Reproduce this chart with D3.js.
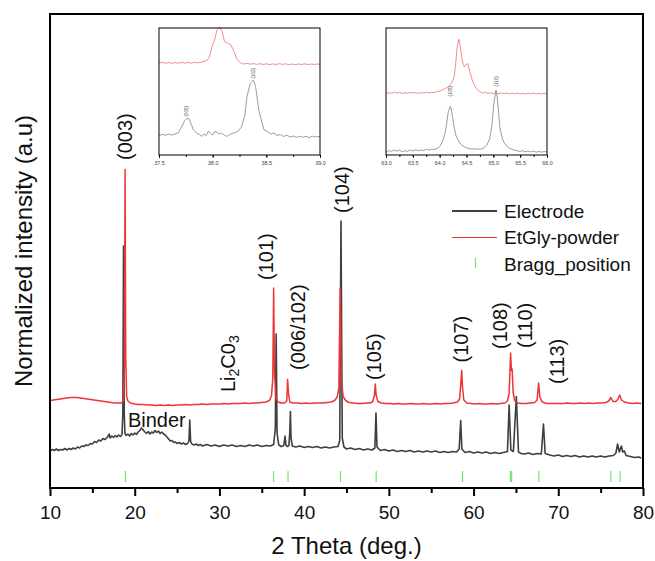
<!DOCTYPE html>
<html>
<head>
<meta charset="utf-8">
<script src="https://cdn.jsdelivr.net/npm/d3@7"></script>
<style>
  body { margin: 0; background: #fff; }
  svg { display: block; font-family: "Liberation Sans", Arial, sans-serif; }
</style>
</head>
<body>
<div id="chart"></div>
<script>
// [2theta (deg), intensity (a.u., offset already applied)]
const electrode = [
  [10.0,7.4],[10.25,7.7],[10.5,7.5],[10.75,7.8],[11.0,7.5],[11.25,7.7],[11.5,7.6],[11.75,7.9],[12.0,7.6],[12.25,7.9],
  [12.5,7.7],[12.75,8.0],[13.0,7.8],[13.25,8.2],[13.5,8.0],[13.75,8.4],[14.0,8.3],[14.25,8.6],[14.5,8.5],[14.75,8.9],
  [15.0,8.8],[15.25,9.3],[15.5,9.1],[15.75,9.6],[16.0,9.4],[16.25,9.9],[16.5,9.7],[16.75,10.1],[17.0,10.8],[17.1,10.0],
  [17.3,10.4],[17.5,10.1],[17.7,10.5],[17.9,10.2],[18.1,10.6],[18.3,10.3],[18.5,10.7],[18.6,15.0],[18.68,48.4],[18.76,15.0],
  [18.85,10.9],[19.0,10.5],[19.2,10.8],[19.4,10.4],[19.6,10.9],[19.8,10.6],[20.0,11.0],[20.2,10.7],[20.4,11.2],[20.6,11.5],
  [20.8,12.0],[21.0,11.6],[21.2,11.2],[21.4,10.9],[21.6,11.3],[21.8,10.8],[22.0,11.2],[22.2,11.0],[22.4,11.5],[22.6,11.1],
  [22.8,11.4],[23.0,10.9],[23.2,11.2],[23.4,10.8],[23.6,10.6],[23.8,10.2],[24.0,9.8],[24.2,9.4],[24.4,9.5],[24.6,9.1],
  [24.8,9.2],[25.0,8.9],[25.25,9.1],[25.5,8.8],[25.75,9.0],[26.0,8.7],[26.25,8.9],[26.4,9.4],[26.5,13.6],[26.6,9.3],
  [26.75,8.8],[27.0,8.6],[27.25,8.8],[27.5,8.5],[27.75,8.7],[28.0,8.4],[28.5,8.7],[29.0,8.4],[29.5,8.6],[30.0,8.3],
  [30.5,8.6],[31.0,8.4],[31.5,8.6],[32.0,8.3],[32.5,8.5],[33.0,8.3],[33.5,8.6],[34.0,8.4],[34.5,8.6],[35.0,8.3],
  [35.5,8.5],[36.0,8.4],[36.4,8.7],[36.6,12.0],[36.7,30.8],[36.8,11.0],[37.0,8.6],[37.3,8.3],[37.6,8.5],[37.75,10.4],
  [37.85,8.6],[38.0,8.3],[38.2,8.5],[38.3,11.0],[38.38,15.3],[38.45,10.0],[38.6,8.4],[39.0,8.2],[39.5,8.4],[40.0,8.1],
  [40.5,8.3],[41.0,8.1],[41.5,8.3],[42.0,8.0],[42.5,8.2],[43.0,8.0],[43.5,8.2],[44.0,8.3],[44.2,9.5],[44.35,53.4],
  [44.5,10.0],[44.7,8.2],[45.0,7.8],[45.5,8.0],[46.0,7.7],[46.5,7.9],[47.0,7.6],[47.5,7.8],[48.0,7.6],[48.35,8.0],
  [48.48,15.0],[48.6,8.2],[49.0,7.5],[49.5,7.7],[50.0,7.4],[50.5,7.6],[51.0,7.3],[51.5,7.5],[52.0,7.3],[52.5,7.5],
  [53.0,7.2],[53.5,7.4],[54.0,7.2],[54.5,7.4],[55.0,7.2],[55.5,7.4],[56.0,7.1],[56.5,7.3],[57.0,7.1],[57.5,7.3],
  [58.0,7.2],[58.3,7.8],[58.48,13.5],[58.62,7.8],[59.0,7.1],[59.5,7.3],[60.0,7.0],[60.5,7.2],[61.0,7.0],[61.5,7.2],
  [62.0,6.9],[62.5,7.1],[63.0,6.9],[63.5,7.1],[64.0,7.3],[64.2,16.6],[64.4,7.6],[64.7,7.3],[65.05,18.3],[65.3,7.2],
  [65.6,6.9],[66.0,6.8],[66.5,7.0],[67.0,6.7],[67.5,6.9],[68.0,6.8],[68.25,12.8],[68.45,6.9],[69.0,6.6],[69.5,6.4],
  [70.0,6.6],[70.5,6.3],[71.0,6.5],[71.5,6.3],[72.0,6.5],[72.5,6.2],[73.0,6.4],[73.5,6.2],[74.0,6.4],[74.5,6.2],
  [75.0,6.4],[75.5,6.2],[76.0,6.4],[76.5,6.5],[76.8,7.0],[77.0,8.8],[77.2,7.2],[77.45,8.4],[77.6,7.2],[77.8,7.4],
  [78.0,6.5],[78.5,6.3],[79.0,6.1],[79.5,6.2],[79.8,6.0]
]

const etGlyPowder = [
  [10.0,17.5],[10.4,17.6],[10.8,17.7],[11.2,17.8],[11.6,17.9],[12.0,18.0],[12.4,18.1],[12.8,18.1],[13.2,18.1],[13.6,18.0],
  [14.0,17.9],[14.4,17.8],[14.8,17.7],[15.2,17.6],[15.6,17.5],[16.0,17.4],[16.4,17.3],[16.8,17.2],[17.2,17.1],[17.6,17.0],
  [18.0,17.0],[18.4,17.0],[18.65,17.4],[18.78,24.0],[18.86,63.7],[18.94,26.0],[19.05,18.2],[19.2,17.4],[19.5,17.0],[20.0,16.8],
  [20.5,16.7],[21.0,16.7],[21.5,16.6],[22.0,16.6],[22.5,16.5],[23.0,16.6],[23.5,16.5],[24.0,16.6],[24.5,16.5],[25.0,16.6],
  [25.5,16.6],[26.0,16.7],[26.5,16.6],[27.0,16.7],[27.5,16.7],[28.0,16.8],[28.5,16.7],[29.0,16.8],[29.5,16.8],[30.0,16.8],
  [30.5,16.9],[31.0,16.8],[31.5,16.9],[32.0,16.9],[32.5,16.9],[33.0,17.0],[33.5,16.9],[34.0,17.0],[34.5,17.0],[35.0,17.1],
  [35.5,17.2],[35.9,17.5],[36.15,18.5],[36.3,22.0],[36.4,40.0],[36.5,23.0],[36.65,18.2],[36.9,17.2],[37.3,17.0],[37.7,17.0],
  [37.95,17.4],[38.05,21.7],[38.15,19.0],[38.3,17.2],[38.7,17.0],[39.2,17.0],[39.7,16.9],[40.2,17.0],[40.7,16.9],[41.2,17.0],
  [41.7,17.0],[42.2,17.0],[42.7,17.1],[43.2,17.2],[43.6,17.5],[43.9,18.2],[44.1,20.0],[44.25,39.9],[44.4,22.0],[44.6,18.3],
  [44.9,17.5],[45.3,17.1],[45.8,17.0],[46.3,16.9],[46.8,16.9],[47.3,17.0],[47.8,17.0],[48.1,17.3],[48.3,18.5],[48.4,20.8],
  [48.5,18.6],[48.7,17.3],[49.1,17.0],[49.6,16.9],[50.1,16.9],[50.6,16.8],[51.1,16.9],[51.6,16.8],[52.1,16.8],[52.6,16.9],
  [53.1,16.8],[53.6,16.8],[54.1,16.9],[54.6,16.8],[55.1,16.8],[55.6,16.9],[56.1,16.8],[56.6,16.9],[57.1,16.9],[57.6,17.0],
  [58.1,17.2],[58.35,17.8],[58.5,21.0],[58.6,23.5],[58.7,20.0],[58.85,17.6],[59.2,17.0],[59.7,16.9],[60.2,16.8],[60.7,16.9],
  [61.2,16.8],[61.7,16.8],[62.2,16.9],[62.7,16.8],[63.2,16.9],[63.7,17.0],[64.0,17.4],[64.2,19.0],[64.37,27.0],[64.47,23.5],
  [64.55,23.8],[64.68,19.0],[64.85,17.5],[65.2,17.0],[65.7,16.9],[66.2,16.9],[66.7,17.0],[67.2,17.1],[67.5,17.6],[67.68,21.0],
  [67.82,18.2],[68.1,17.2],[68.6,16.9],[69.1,16.9],[69.6,16.9],[70.1,16.9],[70.6,16.9],[71.1,17.0],[71.6,16.9],[72.1,16.9],
  [72.6,17.0],[73.1,16.9],[73.6,17.0],[74.1,16.9],[74.6,17.0],[75.1,17.0],[75.6,17.1],[75.95,17.4],[76.2,18.1],[76.45,17.3],
  [76.8,17.3],[77.05,17.8],[77.25,18.6],[77.45,17.6],[77.8,17.2],[78.3,17.0],[78.8,16.9],[79.3,17.0],[79.8,16.9]
]

const braggPositions = [18.9, 36.4, 38.1, 44.3, 48.5, 58.7, 64.35, 64.5, 67.7, 76.2, 77.3]

// [label, 2theta, intensity at the foot of the label]
const peakLabels = [
  ["(003)", 18.8, 65.6],
  ["(101)", 35.5, 41.6],
  ["(006/102)", 39.3, 23.6],
  ["(104)", 44.5, 55.0],
  ["(105)", 48.3, 21.6],
  ["(107)", 58.55, 25.1],
  ["(108)", 63.1, 27.8],
  ["(110)", 66.1, 28.0],
  ["(113)", 69.9, 20.8]
]
const li2co3Label = [31.0, 19.2]
const binderLabel = [19.2, 12.3]

const xMajorTicks = [10, 20, 30, 40, 50, 60, 70, 80]
const xMinorTicks = [15, 25, 35, 45, 55, 65, 75]

// zoomed insets
const inset1Powder = [
  [37.50,92.0],[37.53,92.6],[37.56,91.8],[37.59,92.5],[37.62,91.7],[37.65,92.4],[37.68,91.9],[37.71,92.6],[37.74,92.0],[37.77,92.5],
  [37.80,91.8],[37.83,92.6],[37.86,92.1],[37.89,92.8],[37.92,93.5],[37.95,95.0],[37.97,98.0],[37.99,106.7],[38.02,116.0],[38.04,125.0],
  [38.065,127.7],[38.09,123.3],[38.11,113.3],[38.14,111.7],[38.17,110.0],[38.20,103.3],[38.23,95.0],[38.26,92.2],[38.29,91.0],[38.32,91.6],
  [38.35,90.8],[38.38,91.5],[38.41,90.6],[38.44,91.3],[38.47,90.5],[38.50,91.2],[38.53,90.4],[38.56,91.1],[38.59,90.5],[38.62,91.3],
  [38.65,90.6],[38.68,91.2],[38.71,90.4],[38.74,91.0],[38.77,90.3],[38.80,91.1],[38.83,90.5],[38.86,91.2],[38.89,90.4],[38.92,91.0],
  [38.95,90.5],[38.98,91.1],[39.00,90.6]
]
const inset1Electrode = [
  [37.50,19.5],[37.53,20.5],[37.56,19.8],[37.59,20.8],[37.62,20.0],[37.65,21.2],[37.68,22.0],[37.70,26.0],[37.72,30.0],[37.74,34.5],
  [37.76,36.7],[37.78,36.0],[37.80,31.0],[37.82,25.0],[37.85,21.7],[37.88,20.5],[37.90,18.5],[37.92,21.0],[37.94,19.5],[37.96,24.0],
  [37.98,21.5],[38.00,20.0],[38.02,23.5],[38.04,22.5],[38.06,21.0],[38.08,22.0],[38.10,20.5],[38.13,18.5],[38.15,20.0],[38.18,21.5],
  [38.21,22.5],[38.24,24.0],[38.27,28.3],[38.30,40.0],[38.32,58.3],[38.35,71.7],[38.38,75.0],[38.40,68.3],[38.43,45.0],[38.46,32.0],
  [38.48,25.0],[38.51,23.5],[38.54,21.0],[38.57,22.0],[38.60,19.5],[38.63,20.5],[38.66,18.5],[38.69,20.0],[38.72,18.0],[38.75,19.0],
  [38.78,17.5],[38.81,18.8],[38.84,17.8],[38.87,18.5],[38.90,17.5],[38.93,18.8],[38.96,18.0],[39.00,18.6]
]
const inset1Labels = [["(006)", 37.76, 38.5], ["(102)", 38.38, 76.5]]
const inset1Ticks = [37.5, 38.0, 38.5, 39.0]

const inset2Powder = [
  [63.00,61.0],[63.05,62.5],[63.10,61.5],[63.15,63.0],[63.20,61.8],[63.25,62.6],[63.30,61.5],[63.35,62.4],[63.40,61.7],[63.45,62.6],
  [63.50,61.8],[63.55,62.4],[63.60,61.6],[63.65,62.5],[63.70,61.9],[63.75,62.8],[63.80,62.0],[63.85,62.9],[63.90,62.4],[63.95,63.5],
  [64.00,64.0],[64.04,65.0],[64.08,65.8],[64.12,67.0],[64.16,68.3],[64.20,70.5],[64.24,74.0],[64.27,78.3],[64.30,92.0],[64.32,105.0],
  [64.34,112.0],[64.36,115.7],[64.38,110.0],[64.41,98.3],[64.44,90.5],[64.46,88.3],[64.49,90.0],[64.52,91.7],[64.55,86.0],[64.57,81.7],
  [64.60,76.0],[64.62,73.3],[64.65,69.5],[64.68,66.7],[64.72,64.5],[64.76,63.3],[64.80,62.0],[64.85,62.8],[64.90,61.5],[64.95,62.3],
  [65.00,61.4],[65.05,62.0],[65.10,61.2],[65.15,62.1],[65.20,61.3],[65.25,61.9],[65.30,61.0],[65.35,61.8],[65.40,61.2],[65.45,61.9],
  [65.50,61.1],[65.55,61.7],[65.60,61.0],[65.65,61.8],[65.70,61.2],[65.75,61.9],[65.80,61.1],[65.85,61.6],[65.90,61.0],[65.95,61.7],
  [66.00,61.3]
]
const inset2Electrode = [
  [63.00,3.0],[63.05,4.5],[63.10,3.5],[63.15,5.0],[63.20,3.8],[63.25,4.8],[63.30,3.5],[63.35,4.2],[63.40,3.6],[63.45,4.9],
  [63.50,4.0],[63.55,5.2],[63.60,4.2],[63.65,5.0],[63.70,4.5],[63.75,5.6],[63.80,4.8],[63.85,5.8],[63.90,5.5],[63.95,6.5],
  [64.00,8.3],[64.05,13.0],[64.10,21.7],[64.13,31.0],[64.16,43.3],[64.20,49.0],[64.22,45.0],[64.24,38.3],[64.27,28.0],[64.30,20.0],
  [64.35,14.0],[64.41,10.0],[64.47,8.0],[64.53,6.7],[64.60,6.0],[64.68,6.2],[64.76,5.7],[64.82,7.0],[64.88,10.0],[64.93,16.0],
  [64.97,28.3],[65.01,51.7],[65.05,65.0],[65.07,58.3],[65.10,42.0],[65.12,28.3],[65.16,18.0],[65.20,12.3],[65.25,9.0],[65.31,6.7],
  [65.38,5.0],[65.45,4.2],[65.50,3.5],[65.55,4.3],[65.60,3.2],[65.65,4.0],[65.70,3.0],[65.75,3.8],[65.80,2.9],[65.85,3.6],
  [65.90,2.8],[65.95,3.5],[66.00,3.0]
]
const inset2Labels = [["(108)", 64.2, 58.5], ["(110)", 65.05, 68.5]]
const inset2Ticks = [63.0, 63.5, 64.0, 64.5, 65.0, 65.5, 66.0]

const colors = { electrode: "#3f3f3f", powder: "#ee3434", bragg: "#66e466" }

const dimensions = {
  width: 655,
  height: 561,
  margin: { top: 14, right: 12, bottom: 73, left: 50 }
}
dimensions.boundedWidth = dimensions.width - dimensions.margin.left - dimensions.margin.right
dimensions.boundedHeight = dimensions.height - dimensions.margin.top - dimensions.margin.bottom

const svg = d3.select("#chart").append("svg")
    .attr("width", dimensions.width)
    .attr("height", dimensions.height)

const bounds = svg.append("g")
    .attr("transform", `translate(${dimensions.margin.left},${dimensions.margin.top})`)

const xScale = d3.scaleLinear()
  .domain([10, 80])
  .range([0, dimensions.boundedWidth])

const yScale = d3.scaleLinear()
  .domain([0, 94.8])
  .range([dimensions.boundedHeight, 0])

bounds.append("clipPath").attr("id", "plot-clip")
  .append("rect")
    .attr("width", dimensions.boundedWidth)
    .attr("height", dimensions.boundedHeight)

const lineGenerator = d3.line()
  .x(d => xScale(d[0]))
  .y(d => yScale(d[1]))

const plot = bounds.append("g").attr("clip-path", "url(#plot-clip)")

plot.append("path")
    .datum(electrode)
    .attr("fill", "none")
    .attr("stroke", colors.electrode)
    .attr("stroke-width", 1.6)
    .attr("stroke-linejoin", "round")
    .attr("d", lineGenerator)

plot.append("path")
    .datum(etGlyPowder)
    .attr("fill", "none")
    .attr("stroke", colors.powder)
    .attr("stroke-width", 1.5)
    .attr("stroke-linejoin", "round")
    .attr("d", lineGenerator)

// bragg markers sit just above the x axis
plot.selectAll(".bragg")
  .data(braggPositions)
  .join("line")
    .attr("class", "bragg")
    .attr("x1", d => xScale(d))
    .attr("x2", d => xScale(d))
    .attr("y1", dimensions.boundedHeight - 17)
    .attr("y2", dimensions.boundedHeight - 6)
    .attr("stroke", colors.bragg)
    .attr("stroke-width", 1.1)

// peak labels
bounds.selectAll(".peak-label")
  .data(peakLabels)
  .join("text")
    .attr("class", "peak-label")
    .attr("transform", d => `translate(${xScale(d[1])},${yScale(d[2])}) rotate(-90)`)
    .attr("dominant-baseline", "central")
    .attr("font-size", 20)
    .attr("fill", "#111")
    .text(d => d[0])

const li = bounds.append("text")
    .attr("transform", `translate(${xScale(li2co3Label[0])},${yScale(li2co3Label[1])}) rotate(-90)`)
    .attr("dominant-baseline", "central")
    .attr("font-size", 20)
    .attr("fill", "#111")
li.append("tspan").text("Li")
li.append("tspan").attr("font-size", 14).attr("dy", 6).text("2")
li.append("tspan").attr("dy", -6).text("C0")
li.append("tspan").attr("font-size", 14).attr("dy", 6).text("3")

bounds.append("text")
    .attr("x", xScale(binderLabel[0]))
    .attr("y", yScale(binderLabel[1]))
    .attr("font-size", 20)
    .attr("fill", "#111")
    .text("Binder")

// axes
const xAxis = bounds.append("g")
    .attr("transform", `translate(0,${dimensions.boundedHeight})`)
    .call(d3.axisBottom(xScale).tickValues(xMajorTicks).tickSize(8).tickPadding(10))
xAxis.select(".domain").remove()
xAxis.selectAll(".tick line").attr("stroke-width", 2)
xAxis.selectAll(".tick text")
    .attr("font-size", 19)
    .attr("font-family", "Liberation Sans, Arial, sans-serif")
    .attr("fill", "#111")

const xMinor = bounds.append("g")
    .attr("transform", `translate(0,${dimensions.boundedHeight})`)
    .call(d3.axisBottom(xScale).tickValues(xMinorTicks).tickSize(5).tickFormat(""))
xMinor.select(".domain").remove()
xMinor.selectAll(".tick line").attr("stroke-width", 2)

bounds.append("rect")
    .attr("width", dimensions.boundedWidth)
    .attr("height", dimensions.boundedHeight)
    .attr("fill", "none")
    .attr("stroke", "#000")
    .attr("stroke-width", 2)

svg.append("text")
    .attr("x", dimensions.margin.left + dimensions.boundedWidth / 2)
    .attr("y", 554)
    .attr("text-anchor", "middle")
    .attr("font-size", 24)
    .attr("fill", "#111")
    .text("2 Theta (deg.)")

svg.append("text")
    .attr("transform", `translate(23,${dimensions.margin.top + dimensions.boundedHeight / 2}) rotate(-90)`)
    .attr("text-anchor", "middle")
    .attr("dominant-baseline", "central")
    .attr("font-size", 24)
    .attr("fill", "#111")
    .text("Normalized intensity (a.u)")

// legend
const legend = svg.append("g").attr("transform", "translate(452,211)")
const legendItems = [
  { name: "Electrode", type: "line", color: colors.electrode, width: 2 },
  { name: "EtGly-powder", type: "line", color: colors.powder, width: 1.2 },
  { name: "Bragg_position", type: "tick", color: colors.bragg, width: 1.2 }
]
legendItems.forEach((item, i) => {
  const row = legend.append("g").attr("transform", `translate(0,${i * 26.5})`)
  if (item.type === "line") {
    row.append("line").attr("x1", 0).attr("x2", 45)
      .attr("stroke", item.color).attr("stroke-width", item.width)
  } else {
    row.append("line").attr("x1", 23.5).attr("x2", 23.5).attr("y1", -6).attr("y2", 4)
      .attr("stroke", item.color).attr("stroke-width", item.width)
  }
  row.append("text")
    .attr("x", 52)
    .attr("dominant-baseline", "central")
    .attr("font-size", 19)
    .attr("fill", "#111")
    .text(item.name)
})

// insets
function drawInset(box, domain, powder, elec, labels, ticks, clipId) {
  const g = svg.append("g").attr("transform", `translate(${box.x},${box.y})`)
  const ix = d3.scaleLinear().domain(domain).range([0, box.w])
  const iy = d3.scaleLinear().domain([0, 127]).range([box.h, 0])
  const line = d3.line().x(d => ix(d[0])).y(d => iy(d[1]))

  g.append("rect").attr("width", box.w).attr("height", box.h).attr("fill", "#fff")
  g.append("clipPath").attr("id", clipId)
    .append("rect").attr("y", -3).attr("width", box.w).attr("height", box.h + 3)
  const inner = g.append("g").attr("clip-path", `url(#${clipId})`)
  inner.append("path").datum(powder)
    .attr("fill", "none").attr("stroke", "#f08080").attr("stroke-width", 0.9).attr("d", line)
  inner.append("path").datum(elec)
    .attr("fill", "none").attr("stroke", "#929292").attr("stroke-width", 0.9).attr("d", line)

  g.selectAll(".inset-label").data(labels).join("text")
    .attr("transform", d => `translate(${ix(d[1])},${iy(d[2])}) rotate(-90)`)
    .attr("dominant-baseline", "central")
    .attr("font-size", 4.5)
    .attr("fill", "#555")
    .text(d => d[0])

  const minor = d3.range(0, ticks.length * 2 - 1).map(i => ticks[0] + (ticks[1] - ticks[0]) * i / 2)
  const axMinor = g.append("g").attr("transform", `translate(0,${box.h})`)
    .call(d3.axisBottom(ix).tickValues(minor).tickSize(2).tickFormat(""))
  axMinor.select(".domain").remove()
  const ax = g.append("g").attr("transform", `translate(0,${box.h})`)
    .call(d3.axisBottom(ix).tickValues(ticks).tickSize(3).tickPadding(3).tickFormat(d3.format(".1f")))
  ax.select(".domain").remove()
  ax.selectAll(".tick line").attr("stroke-width", 0.8)
  ax.selectAll(".tick text")
    .attr("font-size", 5.5)
    .attr("font-family", "Liberation Sans, Arial, sans-serif")
    .attr("fill", "#444")

  g.append("rect").attr("width", box.w).attr("height", box.h)
    .attr("fill", "none").attr("stroke", "#000").attr("stroke-width", 1)
}

drawInset({ x: 159, y: 28, w: 161, h: 127 }, [37.5, 39.0], inset1Powder, inset1Electrode, inset1Labels, inset1Ticks, "inset1-clip")
drawInset({ x: 386, y: 28, w: 161, h: 127 }, [63.0, 66.0], inset2Powder, inset2Electrode, inset2Labels, inset2Ticks, "inset2-clip")
</script>
</body>
</html>
